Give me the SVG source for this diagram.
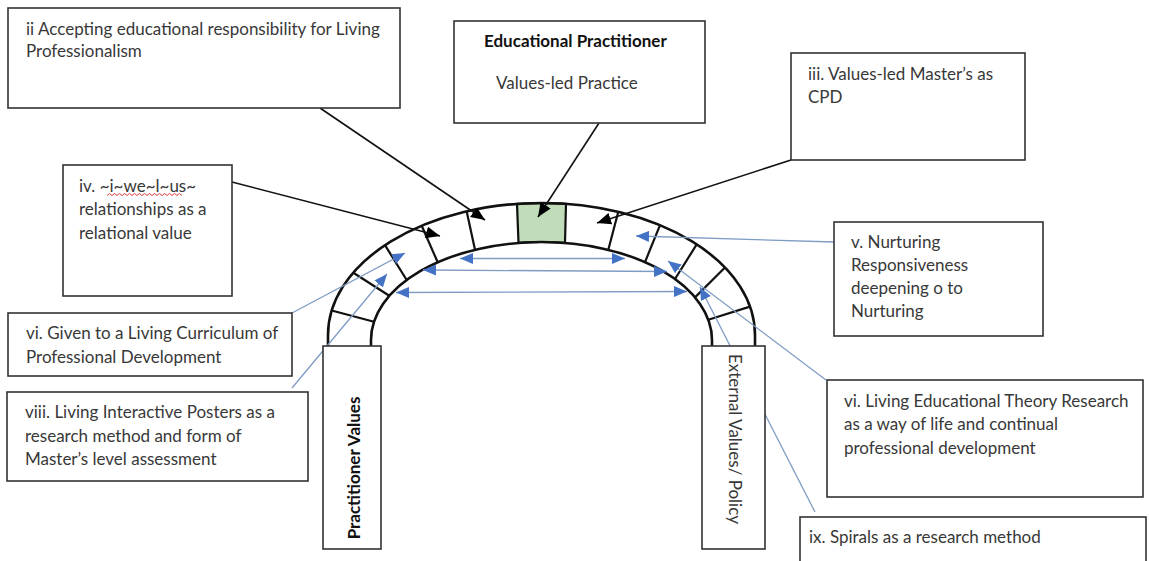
<svg xmlns="http://www.w3.org/2000/svg" width="1149" height="561" viewBox="0 0 1149 561">
  <style>
    .box { fill: #ffffff; stroke: #333333; stroke-width: 1.6; }
    .lbl { font-family: Lato, "Liberation Sans", sans-serif; font-size: 17px; fill: #383838; }
    .bold { font-weight: bold; fill: #111111; }
    .ring { fill: #ffffff; stroke: none; }
    .edge { fill: none; stroke: #111111; stroke-width: 2.6; }
    .joint { stroke: #111111; stroke-width: 2.2; }
    .key { fill: #c1dcb9; stroke: #111111; stroke-width: 2.2; }
    .blk { stroke: #111111; stroke-width: 1.6; fill: none; }
    .blu { stroke: #7f9cc4; stroke-width: 1.3; fill: none; }
  </style>
  <defs>
    <marker id="arrBlack" markerUnits="userSpaceOnUse" markerWidth="14" markerHeight="12" refX="14" refY="6" orient="auto">
      <path d="M0,0 L14,6 L0,12 z" fill="#000000"/>
    </marker>
    <marker id="arrBlue" markerUnits="userSpaceOnUse" markerWidth="13" markerHeight="11" refX="13" refY="5.5" orient="auto-start-reverse">
      <path d="M0,0 L13,5.5 L0,11 z" fill="#4472c4"/>
    </marker>
  </defs>

  <rect width="1149" height="561" fill="#ffffff"/>

  <!-- the arch: ring of voussoirs with a green keystone -->
  <g id="arch">
    <path class="ring" d="M328,347 L328,335 A213.5,132 0 0 1 755,335 L755,347 L712,347 L712,340 A170.5,98 0 0 0 371,340 L371,347 Z"/>
    <path class="key" d="M517,203.9 A213.5,132 0 0 1 566,203.9 L565,242.9 A170.5,98 0 0 0 518.5,242.9 Z"/>
    <path class="edge" d="M328,347 L328,335 A213.5,132 0 0 1 755,335 L755,347"/>
    <path class="edge" d="M371,347 L371,340 A170.5,98 0 0 1 712,340 L712,347"/>
    <line class="joint" x1="466.7" y1="211.4" x2="475" y2="249.7"/>
    <line class="joint" x1="421.7" y1="225.7" x2="437.7" y2="262.3"/>
    <line class="joint" x1="385" y1="245.2" x2="406.7" y2="280"/>
    <line class="joint" x1="353.3" y1="272.7" x2="389.3" y2="295.8"/>
    <line class="joint" x1="331.7" y1="310.5" x2="374" y2="321.7"/>
    <line class="joint" x1="618.3" y1="211.8" x2="608.3" y2="249.8"/>
    <line class="joint" x1="660" y1="225.2" x2="645" y2="262.1"/>
    <line class="joint" x1="696.7" y1="244.4" x2="675" y2="279"/>
    <line class="joint" x1="725" y1="267.5" x2="695" y2="297.4"/>
    <line class="joint" x1="750" y1="306.6" x2="708.3" y2="319.7"/>
  </g>

  <!-- connectors -->
  <g id="connectors">
    <line class="blk" x1="320" y1="108" x2="485" y2="220" marker-end="url(#arrBlack)"/>
    <line class="blk" x1="232" y1="182" x2="440" y2="236" marker-end="url(#arrBlack)"/>
    <line class="blk" x1="599" y1="123" x2="538" y2="217" marker-end="url(#arrBlack)"/>
    <line class="blk" x1="791" y1="160" x2="597" y2="223" marker-end="url(#arrBlack)"/>

    <line class="blu" x1="834" y1="242" x2="636" y2="236" marker-end="url(#arrBlue)"/>
    <line class="blu" x1="460" y1="258.5" x2="625" y2="258.5" marker-start="url(#arrBlue)" marker-end="url(#arrBlue)"/>
    <line class="blu" x1="423" y1="270" x2="667" y2="271.5" marker-start="url(#arrBlue)" marker-end="url(#arrBlue)"/>
    <line class="blu" x1="396" y1="292.5" x2="687" y2="291.5" marker-start="url(#arrBlue)" marker-end="url(#arrBlue)"/>
    <line class="blu" x1="292" y1="313" x2="405" y2="253" marker-end="url(#arrBlue)"/>
    <line class="blu" x1="292" y1="388" x2="387" y2="274" marker-end="url(#arrBlue)"/>
    <line class="blu" x1="826" y1="380" x2="668" y2="261" marker-end="url(#arrBlue)"/>
    <line class="blu" x1="815" y1="512" x2="700" y2="287" marker-end="url(#arrBlue)"/>
  </g>

  <!-- pillars -->
  <g id="practitioner-values">
    <rect class="box" x="323" y="346" width="58" height="203"/>
    <text class="lbl bold" transform="translate(353,468) rotate(-90)" text-anchor="middle" dominant-baseline="central">Practitioner Values</text>
  </g>
  <g id="external-values">
    <rect class="box" x="702" y="346" width="63" height="203"/>
    <text class="lbl" transform="translate(735,439) rotate(90)" text-anchor="middle" dominant-baseline="central">External Values/ Policy</text>
  </g>

  <!-- labelled boxes -->
  <g id="box-ii">
    <rect class="box" x="8" y="8" width="392" height="100"/>
    <text class="lbl" x="26" y="35">ii Accepting educational responsibility for Living</text>
    <text class="lbl" x="26" y="57">Professionalism</text>
  </g>
  <g id="educational-practitioner">
    <rect class="box" x="454" y="21" width="251" height="102"/>
    <text class="lbl bold" x="484" y="47">Educational Practitioner</text>
    <text class="lbl" x="496" y="89">Values-led Practice</text>
  </g>
  <g id="box-iii">
    <rect class="box" x="791" y="53" width="234" height="107"/>
    <text class="lbl" x="808" y="80">iii. Values-led Master’s as</text>
    <text class="lbl" x="808" y="103">CPD</text>
  </g>
  <g id="box-iv">
    <rect class="box" x="63" y="165" width="169" height="131"/>
    <text class="lbl" x="79" y="192">iv. ~i~we~l~us~</text>
    <path d="M107,195.5 l2.5,-2 l2.5,2 l2.5,-2 l2.5,2 l2.5,-2 l2.5,2 l2.5,-2 l2.5,2 l2.5,-2 l2.5,2 l2.5,-2 l2.5,2 l2.5,-2 l2.5,2 l2.5,-2 l2.5,2 l2.5,-2 l2.5,2 l2.5,-2 l2.5,2 l2.5,-2 l2.5,2 l2.5,-2 l2.5,2 l2.5,-2 l2.5,2 l2.5,-2 l2.5,2 l2.5,-2 l2.5,2" fill="none" stroke="#e03a3a" stroke-width="1"/>
    <text class="lbl" x="79" y="215">relationships as a</text>
    <text class="lbl" x="79" y="239">relational value</text>
  </g>
  <g id="box-v">
    <rect class="box" x="834" y="222" width="209" height="114"/>
    <text class="lbl" x="851" y="248">v. Nurturing</text>
    <text class="lbl" x="851" y="271">Responsiveness</text>
    <text class="lbl" x="851" y="294">deepening o to</text>
    <text class="lbl" x="851" y="317">Nurturing</text>
  </g>
  <g id="box-vi-curriculum">
    <rect class="box" x="8" y="313" width="284" height="63"/>
    <text class="lbl" x="26" y="339">vi. Given to a Living Curriculum of</text>
    <text class="lbl" x="26" y="363">Professional Development</text>
  </g>
  <g id="box-viii">
    <rect class="box" x="7" y="392" width="301" height="89"/>
    <text class="lbl" x="25" y="418">viii. Living Interactive Posters as a</text>
    <text class="lbl" x="25" y="442">research method and form of</text>
    <text class="lbl" x="25" y="465">Master’s level assessment</text>
  </g>
  <g id="box-vi-theory">
    <rect class="box" x="827" y="380" width="316" height="117"/>
    <text class="lbl" x="844" y="407">vi. Living Educational Theory Research</text>
    <text class="lbl" x="844" y="430">as a way of life and continual</text>
    <text class="lbl" x="844" y="454">professional  development</text>
  </g>
  <g id="box-ix">
    <rect class="box" x="800" y="517" width="346" height="70"/>
    <text class="lbl" x="809" y="543">ix. Spirals as a research method</text>
  </g>
</svg>
